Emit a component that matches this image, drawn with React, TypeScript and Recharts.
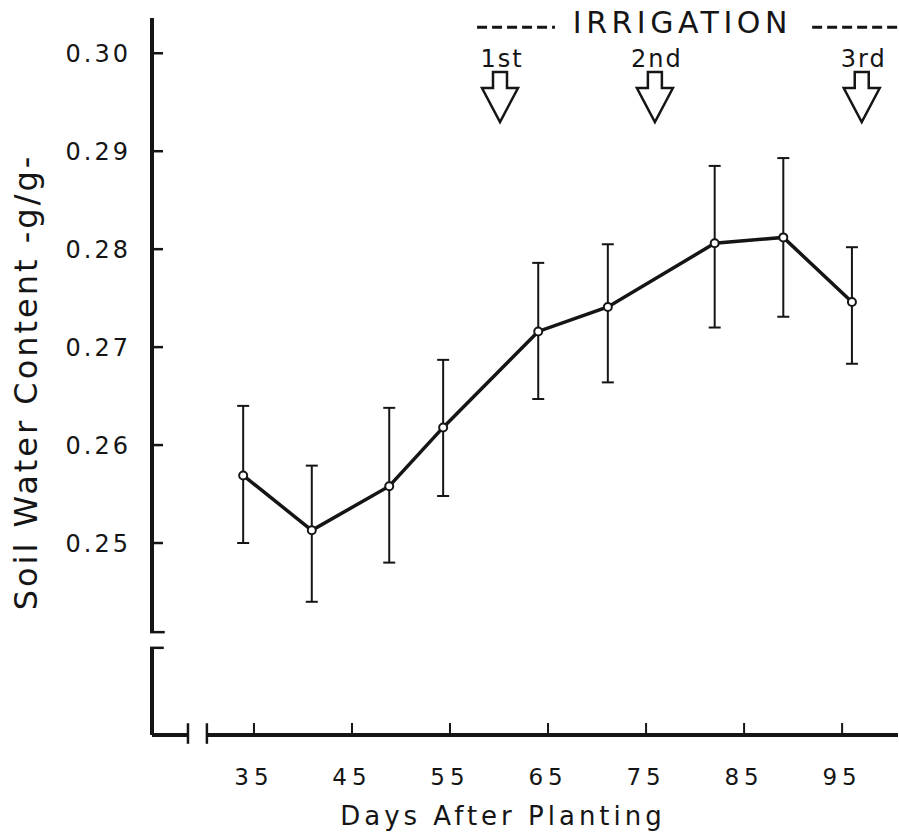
import { LineChart, Line, XAxis, YAxis, ErrorBar, ReferenceLine } from "recharts";

/* data */
const days = [33.9, 40.9, 48.8, 54.3, 64.0, 71.1, 82.0, 89.0, 96.0];
const waterContent = [0.2569, 0.2513, 0.2558, 0.2618, 0.2716, 0.2741, 0.2806, 0.2812, 0.2746];
const errLow = [0.0069, 0.0073, 0.0078, 0.007, 0.0069, 0.0077, 0.0086, 0.0081, 0.0063];
const errHigh = [0.0071, 0.0066, 0.008, 0.0069, 0.007, 0.0064, 0.0079, 0.0081, 0.0056];

const xTicks = [35, 45, 55, 65, 75, 85, 95];
const yTicks = [0.25, 0.26, 0.27, 0.28, 0.29, 0.3];

const irrigationDays = [60.1, 75.9, 97.0];
const irrigationLabels = ["1st", "2nd", "3rd"];

const data = days.map((day, i) => ({
  day,
  swc: waterContent[i],
  err: [errLow[i], errHigh[i]],
}));

/* layout */
const W = 899;
const H = 835;
const X_MIN = 24.6;
const X_MAX = 100.7;
const Y_MIN = 0.2304;
const Y_MAX = 0.3036;
const Y_BREAK_TOP = 0.2409;
const Y_BREAK_BOTTOM = 0.2393;
const X_BREAK_LEFT = 28.27;
const X_BREAK_RIGHT = 30.2;
const HEADER_Y = 0.30265;
const HEADER_CENTER = 78.7;
const Y_TICK_MARGIN = 24;

const INK = "#151515";
const FONT = "'DejaVu Sans', sans-serif";

function YTick({ x, y, payload }: any) {
  const axisX = x + Y_TICK_MARGIN;
  return (
    <g>
      <line x1={axisX} x2={axisX + 11} y1={y} y2={y} stroke={INK} strokeWidth={2.5} />
      <text
        x={x + 3}
        y={y}
        dy="0.36em"
        textAnchor="end"
        fontSize={24}
        letterSpacing={3}
        fill={INK}
        fontFamily={FONT}
      >
        {Number(payload.value).toFixed(2)}
      </text>
    </g>
  );
}

function XTick({ x, y, payload }: any) {
  return (
    <g>
      <line x1={x} x2={x} y1={y - 2} y2={y - 12} stroke={INK} strokeWidth={2} />
      <text
        x={x}
        y={y + 50}
        textAnchor="middle"
        fontSize={23}
        letterSpacing={5}
        fill={INK}
        fontFamily={FONT}
      >
        {payload.value}
      </text>
    </g>
  );
}

// hollow down arrow + ordinal label above it
function irrigationMark(text: string) {
  return (props: any) => {
    const vb = props.viewBox;
    if (!vb) return null;
    const cx = vb.x;
    const top = vb.y;
    const stemTop = top + 54;
    const headTop = top + 70;
    const tip = top + 104;
    const path = [
      `M ${cx - 7} ${stemTop}`,
      `L ${cx + 7} ${stemTop}`,
      `L ${cx + 7} ${headTop}`,
      `L ${cx + 18} ${headTop}`,
      `L ${cx} ${tip}`,
      `L ${cx - 18} ${headTop}`,
      `L ${cx - 7} ${headTop}`,
      "Z",
    ].join(" ");
    return (
      <g>
        <text
          x={cx + 2}
          y={top + 49}
          textAnchor="middle"
          fontSize={24}
          letterSpacing={2}
          fill={INK}
          fontFamily={FONT}
        >
          {text}
        </text>
        <path d={path} fill="#fff" stroke={INK} strokeWidth={2.5} strokeLinejoin="miter" />
      </g>
    );
  };
}

function headerLabel(props: any) {
  const vb = props.viewBox;
  if (!vb) return null;
  return (
    <text
      x={vb.x}
      y={vb.y + 15}
      textAnchor="middle"
      fontSize={30}
      letterSpacing={4.5}
      fill={INK}
      fontFamily={FONT}
    >
      IRRIGATION
    </text>
  );
}

function yLabel(props: any) {
  const vb = props.viewBox;
  if (!vb) return null;
  const x = vb.x + 37;
  const y = vb.y + 364;
  return (
    <text
      x={x}
      y={y}
      transform={`rotate(-90 ${x} ${y})`}
      textAnchor="middle"
      fontSize={32}
      letterSpacing={3}
      fill={INK}
      fontFamily={FONT}
    >
      Soil Water Content -g/g-
    </text>
  );
}

function xLabel(props: any) {
  const vb = props.viewBox;
  if (!vb) return null;
  return (
    <text
      x={vb.x + 351}
      y={vb.y + 90}
      textAnchor="middle"
      fontSize={26}
      letterSpacing={4}
      fill={INK}
      fontFamily={FONT}
    >
      Days After Planting
    </text>
  );
}

const axisStroke = { stroke: INK, strokeWidth: 4, ifOverflow: "visible" as const };
const capStroke = { stroke: INK, strokeWidth: 2.5, ifOverflow: "visible" as const };

export default function App() {
  return (
    <div style={{ position: "absolute", left: 0, top: 0, width: W, height: H, background: "#fff" }}>
      <LineChart width={W} height={H} data={data} margin={{ top: 18, right: 1, bottom: 0, left: 0 }}>
        <XAxis
          dataKey="day"
          type="number"
          domain={[X_MIN, X_MAX]}
          allowDataOverflow
          ticks={xTicks}
          height={100}
          axisLine={false}
          tickLine={false}
          tickSize={0}
          tickMargin={0}
          tick={<XTick />}
          interval={0}
          label={{ content: xLabel }}
        />
        <YAxis
          type="number"
          domain={[Y_MIN, Y_MAX]}
          allowDataOverflow
          ticks={yTicks}
          width={152}
          axisLine={false}
          tickLine={false}
          tickSize={0}
          tickMargin={Y_TICK_MARGIN}
          tick={<YTick />}
          interval={0}
          label={{ content: yLabel }}
        />

        {/* broken y axis */}
        <ReferenceLine segment={[{ x: X_MIN, y: Y_MAX }, { x: X_MIN, y: Y_BREAK_TOP }]} {...axisStroke} />
        <ReferenceLine segment={[{ x: X_MIN - 0.2, y: Y_BREAK_TOP }, { x: X_MIN + 1.3, y: Y_BREAK_TOP }]} {...capStroke} />
        <ReferenceLine segment={[{ x: X_MIN, y: Y_BREAK_BOTTOM }, { x: X_MIN, y: Y_MIN }]} {...axisStroke} />
        <ReferenceLine segment={[{ x: X_MIN - 0.2, y: Y_BREAK_BOTTOM }, { x: X_MIN + 1.2, y: Y_BREAK_BOTTOM }]} {...capStroke} />

        {/* broken x axis */}
        <ReferenceLine segment={[{ x: X_MIN, y: Y_MIN }, { x: X_BREAK_LEFT, y: Y_MIN }]} {...axisStroke} />
        <ReferenceLine segment={[{ x: X_BREAK_LEFT, y: Y_MIN + 0.0012 }, { x: X_BREAK_LEFT, y: Y_MIN - 0.0009 }]} {...capStroke} />
        <ReferenceLine segment={[{ x: X_BREAK_RIGHT, y: Y_MIN }, { x: X_MAX, y: Y_MIN }]} {...axisStroke} />
        <ReferenceLine segment={[{ x: X_BREAK_RIGHT, y: Y_MIN + 0.0012 }, { x: X_BREAK_RIGHT, y: Y_MIN - 0.0009 }]} {...capStroke} />

        {/* irrigation header */}
        <ReferenceLine
          segment={[{ x: 57.76, y: HEADER_Y }, { x: 65.71, y: HEADER_Y }]}
          stroke={INK}
          strokeWidth={3}
          strokeDasharray="10 5"
          ifOverflow="visible"
        />
        <ReferenceLine
          segment={[{ x: 91.94, y: HEADER_Y }, { x: 100.61, y: HEADER_Y }]}
          stroke={INK}
          strokeWidth={3}
          strokeDasharray="10 5"
          ifOverflow="visible"
        />
        <ReferenceLine x={HEADER_CENTER} stroke="none" label={headerLabel} ifOverflow="visible" />
        {irrigationDays.map((d, i) => (
          <ReferenceLine
            key={irrigationLabels[i]}
            x={d}
            stroke="none"
            label={irrigationMark(irrigationLabels[i])}
            ifOverflow="visible"
          />
        ))}

        <Line
          dataKey="swc"
          type="linear"
          stroke={INK}
          strokeWidth={3.5}
          dot={{ r: 4, fill: "#fff", stroke: INK, strokeWidth: 2 }}
          activeDot={false}
          isAnimationActive={false}
        >
          <ErrorBar
            dataKey="err"
            direction="y"
            width={6}
            stroke={INK}
            strokeWidth={2}
            isAnimationActive={false}
          />
        </Line>
      </LineChart>
    </div>
  );
}
